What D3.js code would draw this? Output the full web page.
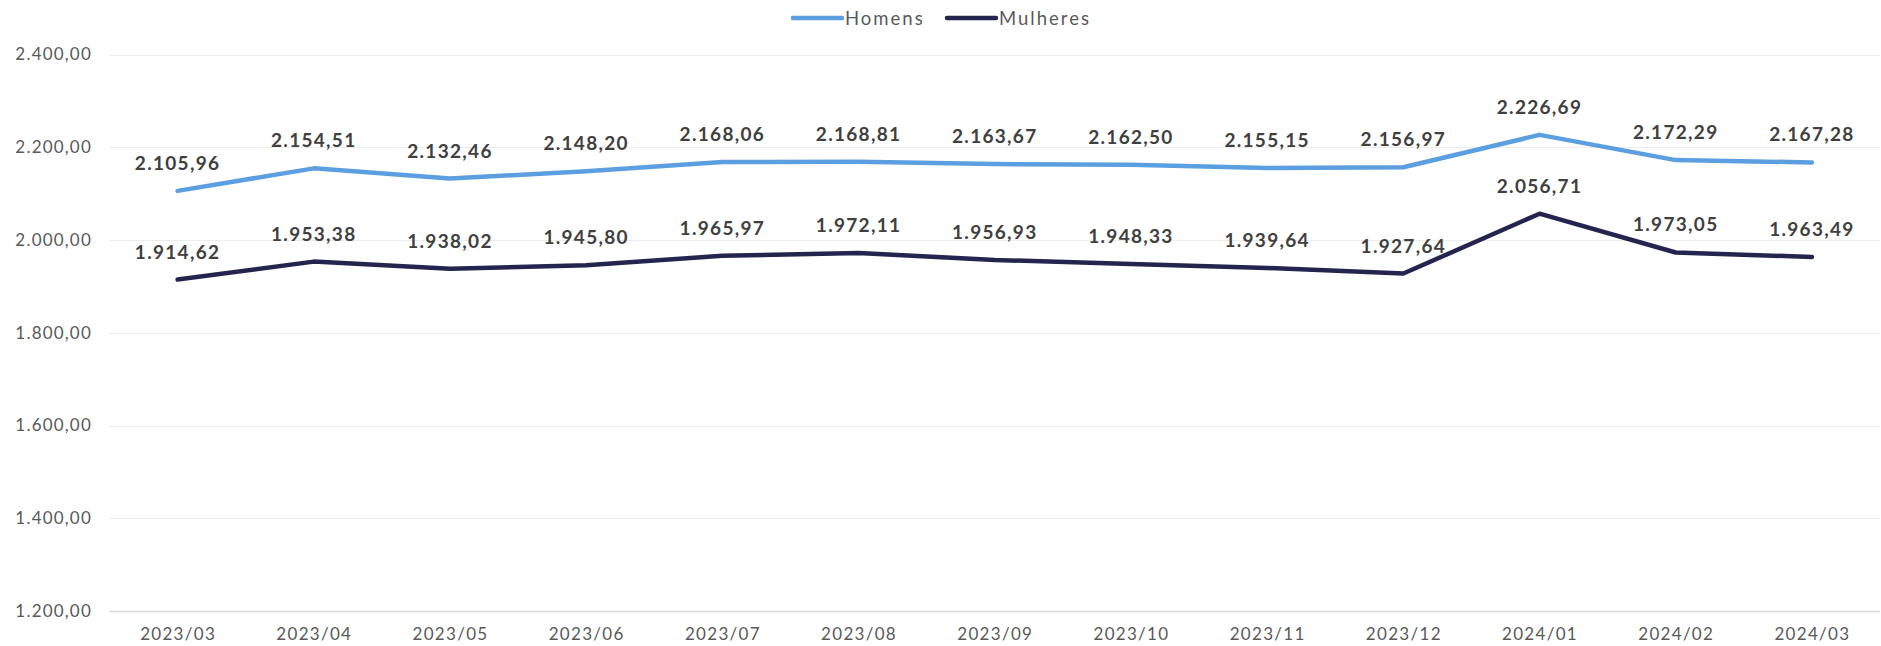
<!DOCTYPE html>
<html><head><meta charset="utf-8">
<script src="https://cdn.jsdelivr.net/npm/d3@7"></script>
<style>
html,body{margin:0;padding:0;background:#fff;}
svg{display:block;font-family:"Lato","Noto Sans",sans-serif;}
</style></head>
<body><svg id="chart" width="1881" height="646"></svg>
<script>
const categories = ["2023/03","2023/04","2023/05","2023/06","2023/07","2023/08","2023/09","2023/10","2023/11","2023/12","2024/01","2024/02","2024/03"];
const homens = [2105.96,2154.51,2132.46,2148.20,2168.06,2168.81,2163.67,2162.50,2155.15,2156.97,2226.69,2172.29,2167.28];
const mulheres = [1914.62,1953.38,1938.02,1945.80,1965.97,1972.11,1956.93,1948.33,1939.64,1927.64,2056.71,1973.05,1963.49];
const yTicks = [1200,1400,1600,1800,2000,2200,2400];
const seriesNames = ["Homens","Mulheres"];
const seriesColors = ["#5B9FE0","#23254F"];

const loc = d3.formatLocale({decimal:",",thousands:".",grouping:[3],currency:["R$",""]});
const fmt = loc.format(",.2f");

const svg = d3.select("#chart");
const m = {left:109.5, right:1880, top:54.5, bottom:611};
const x = d3.scalePoint().domain(categories).range([m.left, m.right]).padding(0.5);
const y = d3.scaleLinear().domain([1200,2400]).range([m.bottom, m.top]);

// gridlines
svg.append("g").selectAll("line").data(yTicks).join("line")
  .attr("x1", m.left).attr("x2", m.right)
  .attr("y1", d=>Math.round(y(d))+0.5).attr("y2", d=>Math.round(y(d))+0.5)
  .attr("stroke", d=> d===1200 ? "#d9d9d9" : "#ececec").attr("stroke-width", d=> d===1200?1.5:1);

// y labels
const yAxis = d3.axisLeft(y).tickValues(yTicks).tickFormat(fmt).tickSize(0).tickPadding(0);
const gy = svg.append("g").attr("transform", `translate(92,0)`).call(yAxis);
gy.select(".domain").remove();
gy.selectAll("text").attr("fill","#595959").attr("font-size","17px").attr("letter-spacing","1.2px")
  .attr("font-family","Lato, 'Noto Sans', sans-serif");

// x labels
const xAxis = d3.axisBottom(x).tickSize(0).tickPadding(0);
const gx = svg.append("g").attr("transform", `translate(0,${m.bottom+17})`).call(xAxis);
gx.select(".domain").remove();
gx.selectAll("text").attr("fill","#595959").attr("font-size","17px").attr("letter-spacing","1.3px")
  .attr("font-family","Lato, 'Noto Sans', sans-serif");

const data = [homens, mulheres];
const line = d3.line().x((d,i)=>x(categories[i])).y(d=>y(d));
data.forEach((s, k) => {
  svg.append("path").datum(s).attr("d", line)
    .attr("fill","none").attr("stroke", seriesColors[k]).attr("stroke-width",4.5)
    .attr("stroke-linejoin","round").attr("stroke-linecap","round");
  svg.append("g").selectAll("text").data(s).join("text")
    .attr("x",(d,i)=>x(categories[i])).attr("y", d=>y(d)-21)
    .attr("text-anchor","middle").attr("font-size","19px").attr("font-weight","bold")
    .attr("fill","#404040").attr("letter-spacing","1.3px").text(d=>fmt(d));
});

// legend
const legX = [793, 947];
seriesNames.forEach((n,k)=>{
  svg.append("line").attr("x1",legX[k]).attr("x2",legX[k]+49).attr("y1",18).attr("y2",18)
    .attr("stroke",seriesColors[k]).attr("stroke-width",4.5).attr("stroke-linecap","round");
  svg.append("text").attr("x",legX[k]+52).attr("y",24.5).attr("font-size","18.5px").attr("letter-spacing","2px")
    .attr("fill","#595959").text(n);
});
</script></body></html>
